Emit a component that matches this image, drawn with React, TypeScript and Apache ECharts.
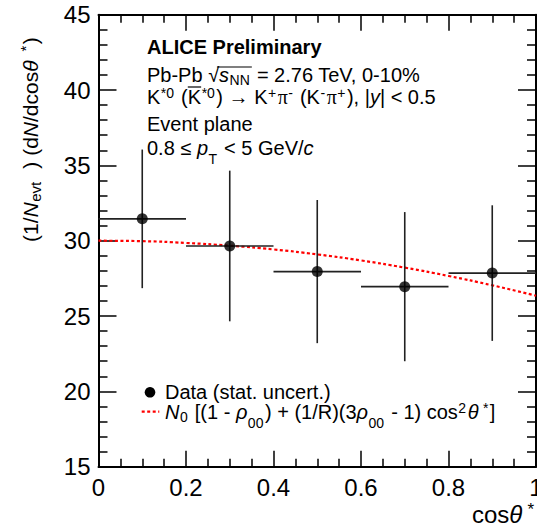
import React, { useEffect, useRef } from "react";
import * as echarts from "echarts";

// ---- data ----
const binCenters = [0.1, 0.3, 0.5, 0.7, 0.9];
const binHalfWidths = [0.1, 0.1, 0.1, 0.1, 0.1];
const yieldValues = [31.45, 29.65, 27.95, 26.95, 27.85];
const statErrors = [4.6, 5.0, 4.75, 4.95, 4.5];
const fitCosTheta = [0, 0.1, 0.2, 0.3, 0.4, 0.5, 0.6, 0.7, 0.8, 0.9, 1.0];
const fitValues = [30.0, 29.97, 29.85, 29.67, 29.42, 29.09, 28.69, 28.21, 27.66, 27.04, 26.35];
const xTickLabels = ["0", "0.2", "0.4", "0.6", "0.8", "1"];
const yTickLabels = ["15", "20", "25", "30", "35", "40", "45"];

const SANS = "'Liberation Sans', Arial, Helvetica, sans-serif";
const SERIF = "'Liberation Serif', 'Times New Roman', serif";

function measure(text: string, size: number, opts: { italic?: boolean; bold?: boolean; family?: string } = {}) {
  const c = document.createElement("canvas").getContext("2d")!;
  c.font = `${opts.italic ? "italic " : ""}${opts.bold ? "bold " : ""}${size}px ${opts.family || SANS}`;
  return c.measureText(text).width;
}

function makeRich(fs: number) {
  const ss = Math.round(fs * 0.7);
  const base = { fontFamily: SANS, fontSize: fs, color: "#000", lineHeight: fs + 8 };
  return {
    n: base,
    b: { ...base, fontWeight: "bold" },
    i: { ...base, fontStyle: "italic" },
    pi: { ...base, fontFamily: SERIF },
    sb: { ...base, fontSize: ss, padding: [10, 1.5, 0, 0.5] },
    sbL: { ...base, fontSize: ss, padding: [22, 1.5, 0, 0.5] },
    sp: { ...base, fontSize: ss, padding: [0, 1.5, 9, 0.5] },
  };
}

export default function App() {
  const ref = useRef<HTMLDivElement>(null);
  useEffect(() => {
    const chart = echarts.init(ref.current!, null, { renderer: "svg", width: 537, height: 529 });
    const R20 = makeRich(20);
    const R21 = makeRich(21);
    const R24 = makeRich(24);
    const tx = 147;
    const c2 = 74.5;
    const c3 = 97;

    // overline over s_NN
    const sq0 = tx + measure("Pb-Pb ", 20) + measure("\u221a", 20) * 0.8;
    const sq1 = tx + measure("Pb-Pb \u221a", 20) + measure("s", 20, { italic: true }) + measure("NN", 14) + 2.5;
    // overline over anti-K
    const kb0 = tx + measure("K", 20) + measure("*0", 14) + 2 + measure(" (", 20);
    const kb1 = kb0 + measure("K", 20);

    const axisCommon = {
      type: "value" as const,
      axisLine: { show: true, onZero: false, lineStyle: { color: "#000", width: 2 } },
      splitLine: { show: false },
    };

    const option: any = {
      animation: false,
      backgroundColor: "#fff",
      grid: { left: 98.5, right: 1, top: 14.7, bottom: 62.3, containLabel: false, outerBoundsMode: "none" },
      xAxis: [
        {
          ...axisCommon,
          position: "bottom",
          min: 0,
          max: 1,
          interval: 0.2,
          axisTick: { show: true, inside: true, length: 16, lineStyle: { color: "#000", width: 1.5 } },
          minorTick: { show: true, splitNumber: 4, length: 8, lineStyle: { color: "#000", width: 1.5 } },
          axisLabel: {
            show: true,
            margin: 9,
            fontSize: 24,
            fontFamily: SANS,
            color: "#000",
            showMinLabel: true,
            showMaxLabel: true,
            hideOverlap: false,
            formatter: (v: number) => xTickLabels[Math.round(v / 0.2)] ?? "",
          },
        },
        {
          ...axisCommon,
          position: "top",
          min: 0,
          max: 1,
          interval: 0.2,
          axisTick: { show: true, inside: true, length: 16, lineStyle: { color: "#000", width: 1.5 } },
          minorTick: { show: true, splitNumber: 4, length: 8, lineStyle: { color: "#000", width: 1.5 } },
          axisLabel: { show: false },
        },
      ],
      yAxis: [
        {
          ...axisCommon,
          position: "left",
          min: 15,
          max: 45,
          interval: 5,
          axisTick: { show: true, inside: true, length: 18, lineStyle: { color: "#000", width: 1.5 } },
          minorTick: { show: true, splitNumber: 5, length: 9, lineStyle: { color: "#000", width: 1.5 } },
          axisLabel: {
            show: true,
            margin: 8,
            fontSize: 24,
            fontFamily: SANS,
            color: "#000",
            showMinLabel: true,
            showMaxLabel: true,
            formatter: (v: number) => yTickLabels[Math.round((v - 15) / 5)] ?? "",
          },
        },
        {
          ...axisCommon,
          position: "right",
          min: 15,
          max: 45,
          interval: 5,
          axisTick: { show: true, inside: true, length: 18, lineStyle: { color: "#000", width: 1.5 } },
          minorTick: { show: true, splitNumber: 5, length: 9, lineStyle: { color: "#000", width: 1.5 } },
          axisLabel: { show: false },
        },
      ],
      series: [
        {
          type: "line",
          data: fitCosTheta.map((x, i) => [x, fitValues[i]]),
          smooth: true,
          showSymbol: false,
          symbol: "none",
          lineStyle: { color: "#ff0000", width: 2.2, type: [3, 2.5] },
          z: 3,
        },
        {
          type: "custom",
          data: binCenters.map((x, i) => [x, yieldValues[i], binHalfWidths[i], statErrors[i]]),
          encode: { x: 0, y: 1 },
          renderItem: (params: any, api: any) => {
            const x = api.value(0);
            const y = api.value(1);
            const ex = api.value(2);
            const ey = api.value(3);
            const l = api.coord([x - ex, y]);
            const r = api.coord([x + ex, y]);
            const t = api.coord([x, y + ey]);
            const b = api.coord([x, y - ey]);
            const style = { stroke: "#222", lineWidth: 1.6 };
            return {
              type: "group",
              children: [
                { type: "line", shape: { x1: l[0], y1: l[1], x2: r[0], y2: r[1] }, style },
                { type: "line", shape: { x1: t[0], y1: t[1], x2: b[0], y2: b[1] }, style },
              ],
            };
          },
          z: 4,
        },
        {
          type: "scatter",
          data: binCenters.map((x, i) => [x, yieldValues[i]]),
          symbol: "circle",
          symbolSize: 11,
          itemStyle: { color: "#000" },
          z: 5,
        },
      ],
      graphic: [
        { type: "text", x: tx, y: 46.5, style: { text: "{b|ALICE Preliminary}", rich: R20, align: "left", verticalAlign: "middle" } },
        {
          type: "text",
          x: tx,
          y: c2,
          style: {
            text: "{n|Pb-Pb \u221a}{i|s}{sb|NN}{n| = 2.76 TeV, 0-10%}",
            rich: R20,
            align: "left",
            verticalAlign: "middle",
          },
        },
        { type: "line", shape: { x1: sq0, y1: c2 - 7.5, x2: sq1, y2: c2 - 7.5 }, style: { stroke: "#000", lineWidth: 1.2 } },
        {
          type: "text",
          x: tx,
          y: c3,
          style: {
            text: "{n|K}{sp|*0}{n| (K}{sp|*0}{n|) \u2192 K}{sp|+}{pi|\u03c0}{sp|-}{n| (K}{sp|-}{pi|\u03c0}{sp|+}{n|), |}{i|y}{n|| < 0.5}",
            rich: R20,
            align: "left",
            verticalAlign: "middle",
          },
        },
        { type: "line", shape: { x1: kb0, y1: c3 - 10, x2: kb1, y2: c3 - 10 }, style: { stroke: "#000", lineWidth: 1.2 } },
        { type: "text", x: tx, y: 123.5, style: { text: "{n|Event plane}", rich: R20, align: "left", verticalAlign: "middle" } },
        {
          type: "text",
          x: tx,
          y: 147.5,
          style: { text: "{n|0.8 \u2264 }{i|p}{sbL|T}{n| < 5 GeV/}{i|c}", rich: R20, align: "left", verticalAlign: "middle" },
        },
        // legend
        { type: "circle", shape: { cx: 150, cy: 392.3, r: 5.3 }, style: { fill: "#000" } },
        { type: "text", x: 165, y: 392, style: { text: "{n|Data (stat. uncert.)}", rich: R20, align: "left", verticalAlign: "middle" } },
        {
          type: "line",
          shape: { x1: 141.7, y1: 411.7, x2: 159.3, y2: 411.7 },
          style: { stroke: "#ff0000", lineWidth: 2.2, lineDash: [3, 2.5] },
        },
        {
          type: "text",
          x: 165,
          y: 412,
          style: {
            text: "{i|N}{sb|0}{n| [(1 - }{i|\u03c1}{sbL|00}{n|) + (1/R)(3}{i|\u03c1}{sbL|00}{n| - 1) cos}{sp|2}{i|\u03b8}{sp| *}{n|]}",
            rich: R20,
            align: "left",
            verticalAlign: "middle",
          },
        },
        // axis titles
        {
          type: "text",
          x: 30,
          y: 242,
          rotation: Math.PI / 2,
          style: {
            text: "{n|(1/}{i|N}{sb|evt}{n|  ) (d}{i|N}{n|/dcos}{i|\u03b8}{sp|  *}{n|)}",
            rich: R21,
            align: "left",
            verticalAlign: "middle",
          },
        },
        {
          type: "text",
          x: 472,
          y: 514,
          style: { text: "{n|cos}{i|\u03b8}{sp| *}", rich: R24, align: "left", verticalAlign: "middle" },
        },
      ],
    };
    chart.setOption(option);
    return () => chart.dispose();
  }, []);
  return (
    <div
      ref={ref}
      style={{ position: "absolute", left: 0, top: 0, width: 537, height: 529, background: "#fff" }}
    />
  );
}
